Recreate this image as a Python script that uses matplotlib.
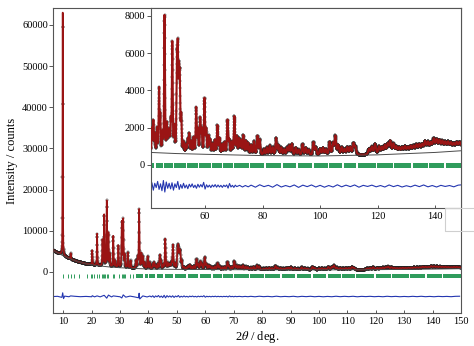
import numpy as np
import matplotlib
matplotlib.use('Agg')
import matplotlib.pyplot as plt
from matplotlib.patches import Rectangle

plt.rcParams['font.family'] = ['Liberation Serif', 'DejaVu Serif']
plt.rcParams['mathtext.fontset'] = 'stix'

# Refined background, (2theta, counts)
bg_tth = [6.5, 8, 10, 12, 15, 18, 22, 26, 30, 35, 41, 50, 60, 80, 100, 120, 140, 150]
bg_counts = [5200, 4600, 3900, 3250, 2500, 1950, 1500, 1200, 1000, 820, 660, 600,
             560, 490, 470, 530, 660, 760]

# Bragg peaks: position (deg) and height above background (counts)
peak_pos = [9.8, 12.6, 20.2, 21.9, 23.8, 24.4, 25.3, 25.9, 26.4, 27.6, 28.3, 29.4,
            30.6, 31.1, 31.6, 32.7, 33.7, 35.6, 36.2, 36.7, 37.5, 38.0, 38.6, 39.7,
            40.4, 41.5, 42.0, 42.5, 43.3, 44.0, 44.4, 45.2, 45.9, 46.7, 47.2, 47.6,
            48.1, 48.6, 49.3, 50.2, 50.5, 50.9, 51.2, 51.7, 52.5, 53.4, 54.0, 54.5,
            55.2, 56.0, 56.9, 57.5, 58.3, 58.8, 59.8, 60.4, 61.2, 61.8, 62.6, 63.4,
            64.3, 65.0, 66.0, 66.8, 67.8, 68.4, 69.3, 70.2, 71.0, 71.8, 72.5, 73.3,
            74.2, 75.0, 76.0, 77.0, 78.2, 79.0, 80.5, 81.5, 82.5, 83.5, 84.7, 85.5,
            86.5, 87.5, 88.5, 89.3, 90.2, 91.5, 92.5, 93.9, 95.0, 96.0, 97.7, 98.5,
            100.0, 101.0, 102.0, 103.3, 104.5, 105.3, 106.3, 107.5, 108.5, 109.5,
            110.5, 111.6, 112.3, 117.0, 118.0, 119.1, 120.5, 121.5, 122.5, 123.5,
            124.4, 125.5, 126.5, 127.5, 128.5, 129.5, 130.5, 131.5, 132.5, 133.5,
            134.5, 135.5, 136.5, 137.5, 138.5, 139.5, 140.5, 141.5, 142.5, 143.5,
            144.5, 145.5, 146.5, 147.5, 148.5, 149.5]
peak_height = [59000, 1400, 3500, 7700, 6300, 12400, 15800, 8000, 3000, 7500, 1500, 5300,
               11000, 11600, 3000, 3700, 1800, 1800, 2500, 14300, 3500, 2800, 1500, 3000,
               1500, 1200, 1600, 900, 1200, 3300, 1800, 900, 7300, 1400, 900, 1000,
               1500, 5800, 1200, 4200, 4800, 3600, 3400, 1800, 500, 400, 700, 1000,
               600, 800, 2400, 1200, 1800, 1200, 2900, 1200, 900, 700, 500, 700,
               1500, 800, 500, 600, 1800, 700, 600, 2000, 900, 800, 700, 1000,
               700, 600, 500, 700, 1000, 800, 300, 400, 500, 400, 900, 500,
               400, 300, 400, 500, 600, 400, 300, 600, 400, 300, 700, 400,
               350, 400, 300, 700, 600, 1000, 500, 400, 300, 400,
               400, 600, 400, 300, 400, 550, 400, 350, 450, 500,
               650, 500, 350, 300, 300, 350, 300, 350, 350, 400,
               400, 400, 550, 500, 450, 650, 600, 550, 500, 450,
               450, 400, 350, 400, 400, 350]

# Difference (obs - calc), counts
diff_tth = [6.5, 8, 9.5, 9.8, 10.1, 10.5, 12, 12.6, 14, 16, 18, 20, 20.2, 21, 21.9, 23,
            24.4, 25.3, 25.9, 27, 27.6, 28.5, 30, 30.6, 31.1, 32, 33.5, 35, 36.5, 36.7,
            36.9, 38, 39.5, 40.5,
            41, 41.5, 42, 42.5, 43, 43.5, 44, 44.5, 45, 45.5, 46, 46.5, 47, 47.5, 48,
            48.5, 49, 49.5, 50, 50.5, 51, 51.5, 52, 52.5, 53, 53.5, 54, 54.5, 55, 55.5,
            56, 56.5, 57, 57.5, 58, 58.5, 59, 59.5, 60, 60.5, 61, 61.5, 62, 62.5, 63,
            63.5, 64, 64.5, 65, 65.5, 66, 66.5, 67, 67.5, 68, 68.5, 69, 69.5, 70, 70.5,
            71, 72, 73, 74, 75,
            76, 77.5, 79, 80.5, 82, 83.5, 85, 86.5, 88, 89.5, 91, 92.5, 94, 95.5, 97,
            98.5, 100, 101.5, 103, 104.5, 106, 107.5, 109, 110.5, 112, 113.5, 115,
            116.5, 118, 119.5, 121, 122.5, 124, 125.5, 127, 128.5, 130, 131.5, 133,
            134.5, 136, 137.5, 139, 140.5, 142, 143.5, 145, 146.5, 148, 149.5]
diff_counts = [0, 50, -200, 900, -500, 100, -50, 150, 60, -40, 30, -60, 200, -80, 150, -80,
               300, -400, 350, -100, 150, 80, -60, -350, 400, -150, 100, -80, -300, 800,
               -600, 150, -100, 120,
               -100, 180, -220, 150, -80, 250, -180, 120, -250, 300, -320, 220, -120,
               150, -150, 180, -220, 120, -80, 250, -180, 80, -120, 150, -100, 60,
               -140, 100, -50, 120, -80, 50, -120, 100, -60, 80, -50, 200, -160, 70,
               -60, 50, -80, 60, -40, 80, -60, 60, -50, 40, -70, 50, -30, 60, -110,
               140, -50, 40, -70, 50, -30, 40, -50, 30, -40,
               50, -60, 70, -30, 40, -60, 80, -50, 30, -40, 60, -70, 50, -30, 60, -50,
               40, -60, 30, -50, 70, -40, 50, -30, 60, -60, 40, -20, 50, -40, 30, -50,
               60, -30, 40, -50, 20, -40, 50, -30, 60, -40, 30, -50, 40, -20, 30, -40,
               50, 70]

# Reflection markers: resolved low-angle reflections and the dense band above 35.6 deg
refl_pos = [9.8, 11.8, 12.6, 13.8, 15.6, 18.3, 19.7, 20.2, 20.9, 21.8, 22.7, 23.6, 24.0,
            24.4, 24.8, 25.3, 25.8, 27.6, 28.0, 29.5, 30.6, 31.0, 31.4, 31.8, 33.5, 34.6]
band_start, band_end = 35.6, 150.0
band_gaps = [38.4, 40.0, 42.6, 45.5, 49.0, 53.5, 57.8, 62.3, 66.0, 69.9, 75.5, 80.9,
             86.7, 91.9, 97.5, 102.9, 108.0, 112.8, 119.7, 125.5, 131.9, 137.7, 143.5]

# calculated profile: pseudo-Voigt peaks on the background
tth = np.arange(6.5, 150.005, 0.01)
pos = np.array(peak_pos)[:, None]
fwhm = 0.1 + 0.005 * pos
u = (tth[None, :] - pos) / fwhm
shape = 0.5 * np.exp(-4 * np.log(2) * u**2) + 0.5 / (1 + 4 * u**2)
calc = np.interp(tth, bg_tth, bg_counts) + (np.array(peak_height)[:, None] * shape).sum(axis=0)

edges = [band_start] + band_gaps
segs = []
for a, b in zip(edges, band_gaps + [band_end]):
    a0 = a + (0.25 if a != band_start else 0)
    b0 = b - (0.25 if b != band_end else 0)
    segs.append((a0, b0 - a0))

RED = '#9a1414'
BLUE = '#2436b0'
GREEN = '#2f9c5c'
FRAME = '#555555'


def draw(ax, refl_y, refl_h, diff_off, lw_calc, ms, step):
    # observed points sit under the calculated curve
    ax.plot(tth[::step], calc[::step], '+', color='#222222', ms=ms, mew=0.3, zorder=2)
    ax.plot(tth, calc, color=RED, lw=lw_calc, zorder=3)
    ax.plot(bg_tth, bg_counts, color='#4a4a4a', lw=0.7, zorder=4)
    ax.vlines(refl_pos, refl_y, refl_y + refl_h, color=GREEN, lw=0.7)
    ax.broken_barh(segs, (refl_y, refl_h), facecolor=GREEN, edgecolor='none')
    ax.plot(diff_tth, np.array(diff_counts) + diff_off, color=BLUE, lw=0.8)
    for s in ax.spines.values():
        s.set_color(FRAME)
        s.set_linewidth(0.8)
    ax.tick_params(axis='y', direction='out', length=3, width=0.7, color=FRAME,
                   labelsize=7.5, pad=1)
    ax.tick_params(axis='x', direction='in', length=2, width=0.7, color=FRAME,
                   labelsize=7.5, pad=3)


fig = plt.figure(figsize=(4.74, 3.46), dpi=100)
ax = fig.add_axes([0.1125, 0.0954, 0.8601, 0.8815])
draw(ax, -1400, 800, -6000, 1.2, 2.2, 4)
ax.set_xlim(6.5, 150)
ax.set_ylim(-10000, 64100)
ax.set_xticks(np.arange(10, 151, 10))
ax.set_yticks(np.arange(0, 60001, 10000))
ax.set_xlabel(r'2$\theta$ / deg.', fontsize=9, labelpad=2)
ax.set_ylabel('Intensity / counts', fontsize=9, labelpad=3)

ins = fig.add_axes([0.318, 0.3988, 0.6546, 0.5781])
draw(ins, -180, 260, -1150, 1.5, 2.4, 3)
ins.set_xlim(41.1, 149)
ins.set_ylim(-2330, 8430)
ins.set_xticks(np.arange(60, 141, 20))
ins.set_yticks(np.arange(0, 8001, 2000))

fig.add_artist(Rectangle((445 / 474, 1 - 231 / 346), 40 / 474, 23 / 346,
                         transform=fig.transFigure, fill=False,
                         edgecolor='#cfcfcf', lw=0.8))

fig.savefig('out.png', dpi=100, facecolor='white')
plt.close()
